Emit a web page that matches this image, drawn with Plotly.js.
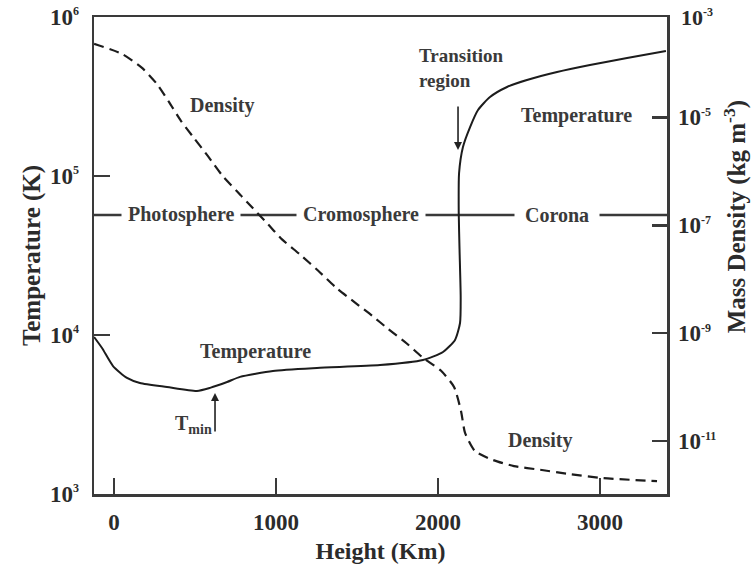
<!DOCTYPE html>
<html>
<head>
<meta charset="utf-8">
<script src="https://cdn.plot.ly/plotly-3.0.1.min.js"></script>
<style>html,body{margin:0;padding:0;background:#fff;}#chart{width:751px;height:566px;}</style>
</head>
<body>
<div id="chart"></div>
<script>
// Height (km) and temperature (K) of the solid curve
var heightT = [-123, -74, -6, 80, 160, 327, 512, 593, 698, 778, 981, 1253, 1642, 1907, 2031, 2105, 2136, 2140, 2133, 2128, 2130, 2154, 2198, 2247, 2321, 2426, 2549, 2735, 2938, 3167, 3407];
var temperature = [9710, 8280, 6380, 5370, 4990, 4710, 4450, 4650, 5060, 5450, 5940, 6200, 6470, 6960, 7820, 9310, 11900, 17300, 34300, 58500, 104000, 152000, 203000, 260000, 314000, 363000, 402000, 451000, 499000, 552000, 611000];

// Height (km) and mass density (kg m^-3) of the dashed curve
var heightD = [-123, 49, 173, 265, 340, 414, 494, 580, 667, 759, 858, 951, 1037, 1148, 1259, 1377, 1488, 1593, 1691, 1809, 1907, 2019, 2099, 2142, 2167, 2228, 2340, 2469, 2630, 2815, 3019, 3352];
var density = [2.30e-4, 1.50e-4, 8.24e-5, 4.16e-5, 1.92e-5, 8.53e-6, 4.12e-6, 1.91e-6, 8.47e-7, 4.27e-7, 2.06e-7, 1.04e-7, 5.47e-8, 2.88e-8, 1.45e-8, 6.72e-9, 3.69e-9, 2.11e-9, 1.21e-9, 6.38e-10, 3.51e-10, 2.01e-10, 1.01e-10, 3.63e-11, 1.42e-11, 6.55e-12, 4.46e-12, 3.44e-12, 2.95e-12, 2.44e-12, 2.06e-12, 1.81e-12];

// Tick values and labels
var xTicks = [0, 1000, 2000, 3000];
var xTickText = ['0', '1000', '2000', '3000'];
var tTicks = [1e3, 1e4, 1e5, 1e6];
var tExp = ['3', '4', '5', '6'];
var dTicks = [1e-5, 1e-7, 1e-9, 1e-11];
var dExp = ['-5', '-7', '-9', '-11'];
var regionLabels = ['Photosphere', 'Cromosphere', 'Corona'];

function pow10(e) { return '10<sup><span style="font-size:12px">' + e + '</span></sup>'; }
var tTickText = tExp.map(pow10);
var dTickText = dExp.map(pow10);

var FONT = 'Liberation Serif, Times New Roman, serif';
var INK = '#2b2b2b';
var AX = '#3a3a3a';

var traces = [
  {x: heightT, y: temperature, type: 'scatter', mode: 'lines', yaxis: 'y',
   line: {color: '#1c1c1c', width: 2, shape: 'spline', smoothing: 0.6}, hoverinfo: 'skip', showlegend: false},
  {x: heightD, y: density, type: 'scatter', mode: 'lines', yaxis: 'y2',
   line: {color: '#1c1c1c', width: 2.2, dash: '10px,6px', shape: 'spline', smoothing: 0.6}, hoverinfo: 'skip', showlegend: false}
];

function lab(text, x, y, opts) {
  var a = {text: text, xref: 'paper', yref: 'paper', x: x, y: y, showarrow: false,
    font: {family: FONT, size: 20, color: '#3a3a3a', weight: 'bold'}, xanchor: 'center', yanchor: 'middle'};
  for (var k in (opts || {})) a[k] = opts[k];
  return a;
}

var annotations = [
  lab('Density', 0.2234, 0.8155),
  lab('Temperature', 0.281, 0.2977),
  lab('Temperature', 0.8412, 0.7925),
  lab('Density', 0.7784, 0.1132),
  lab(regionLabels[0], 0.1518, 0.585, {bgcolor: '#ffffff', borderpad: 6}),
  lab(regionLabels[1], 0.466, 0.585, {bgcolor: '#ffffff', borderpad: 6}),
  lab(regionLabels[2], 0.808, 0.585, {bgcolor: '#ffffff', borderpad: 10}),
  lab('Transition<br>region', 0.5637, 0.893, {xanchor: 'left', align: 'left',
      font: {family: FONT, size: 19, color: '#3a3a3a', weight: 'bold'}}),
  lab('T<sub>min</sub>', 0.1728, 0.1447),
  // arrows
  {xref: 'paper', yref: 'paper', x: 0.2112, y: 0.2117, ax: 0, ay: 40, text: '', showarrow: true,
   arrowhead: 2, arrowsize: 1, arrowwidth: 1.6, arrowcolor: '#222'},
  {xref: 'paper', yref: 'paper', x: 0.6353, y: 0.7212, ax: 0, ay: -45, text: '', showarrow: true,
   arrowhead: 2, arrowsize: 1, arrowwidth: 1.6, arrowcolor: '#222'},
  // top right density label (corner)
  {xref: 'paper', yref: 'paper', x: 1.021, y: 0.998, text: pow10('-3'), showarrow: false,
   xanchor: 'left', yanchor: 'middle', font: {family: FONT, size: 22, color: INK, weight: 'bold'}},
  // right axis title
  {xref: 'paper', yref: 'paper', x: 1.1187, y: 0.58, text: 'Mass Density (kg m<sup>-3</sup>)', showarrow: false,
   textangle: -90, xanchor: 'center', yanchor: 'middle', font: {family: FONT, size: 25, color: INK, weight: 'bold'}}
];

var layout = {
  width: 751, height: 566,
  margin: {l: 94, r: 84, t: 17, b: 72, pad: 0},
  paper_bgcolor: '#ffffff', plot_bgcolor: '#ffffff',
  font: {family: FONT, size: 20, color: INK, weight: 'bold'},
  showlegend: false,
  xaxis: {
    range: [-123.5, 3413.6], tickvals: xTicks, ticktext: xTickText,
    ticks: 'inside', ticklen: 16, tickwidth: 2.5, tickcolor: AX,
    showline: true, linewidth: 2.5, linecolor: AX, mirror: true,
    showgrid: false, zeroline: false,
    tickfont: {family: FONT, size: 23, color: INK, weight: 'bold'},
    ticklabelstandoff: 6,
    title: {text: 'Height (Km)', font: {family: FONT, size: 24, color: INK, weight: 'bold'}, standoff: 8}
  },
  yaxis: {
    type: 'log', range: [3, 6], tickvals: tTicks, ticktext: tTickText,
    ticks: 'inside', ticklen: 16, tickwidth: 2.5, tickcolor: AX,
    showline: true, linewidth: 2.5, linecolor: AX, mirror: true,
    showgrid: false, zeroline: false,
    tickfont: {family: FONT, size: 23, color: INK, weight: 'bold'},
    ticklabelstandoff: 8,
    title: {text: 'Temperature (K)', font: {family: FONT, size: 25, color: INK, weight: 'bold'}, standoff: 2}
  },
  yaxis2: {
    type: 'log', range: [-11.98, -3.14], overlaying: 'y', side: 'right',
    tickvals: dTicks, ticktext: dTickText,
    ticks: 'inside', ticklen: 15, tickwidth: 2.5, tickcolor: AX,
    showline: false, showgrid: false, zeroline: false,
    tickfont: {family: FONT, size: 23, color: INK, weight: 'bold'},
    ticklabelstandoff: 10
  },
  shapes: [
    {type: 'line', xref: 'paper', yref: 'paper', x0: 0, x1: 1, y0: 0.585, y1: 0.585, layer: 'below',
     line: {color: AX, width: 2.5}}
  ],
  annotations: annotations
};

Plotly.newPlot('chart', traces, layout, {staticPlot: true, displayModeBar: false});
</script>
</body>
</html>
